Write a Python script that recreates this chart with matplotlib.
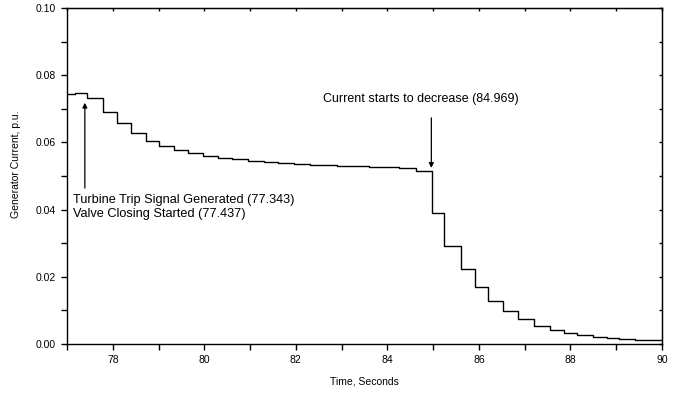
import matplotlib
matplotlib.use('Agg')
import matplotlib.pyplot as plt
from matplotlib.ticker import MultipleLocator, FormatStrFormatter

plt.rcParams['font.family'] = ['Liberation Sans', 'DejaVu Sans']

# Sampled generator current (step changes), time in seconds
t = [77.00, 77.17, 77.43, 77.78, 78.10, 78.39, 78.73, 79.02, 79.33, 79.65,
     79.97, 80.30, 80.60, 80.95, 81.30, 81.60, 81.95, 82.30, 82.60, 82.90,
     83.25, 83.60, 83.90, 84.25, 84.63, 84.97, 85.24, 85.60, 85.92, 86.20,
     86.53, 86.86, 87.20, 87.56, 87.86, 88.14, 88.49, 88.80, 89.07, 89.42,
     90.00]
current = [0.0743, 0.0746, 0.0733, 0.0690, 0.0657, 0.0628, 0.0603, 0.0589, 0.0577, 0.0567,
           0.0560, 0.0554, 0.0550, 0.0546, 0.0542, 0.0539, 0.0536, 0.0534, 0.0532, 0.0530,
           0.0529, 0.0527, 0.0526, 0.0524, 0.0515, 0.0390, 0.0292, 0.0222, 0.0170, 0.0129,
           0.0098, 0.0074, 0.0054, 0.0043, 0.0034, 0.0026, 0.0022, 0.0018, 0.0014, 0.0011,
           0.0011]

trip_t = 77.39
decrease_t = 84.96

fig = plt.figure(figsize=(6.74, 3.96), dpi=100)
ax = fig.add_axes([0.0994, 0.1313, 0.8828, 0.8485])

ax.step(t, current, where='post', color='black', linewidth=1.0)

ax.set_xlim(77, 90)
ax.set_ylim(0, 0.10)
ax.xaxis.set_major_locator(MultipleLocator(2))
ax.xaxis.set_minor_locator(MultipleLocator(1))
ax.yaxis.set_major_locator(MultipleLocator(0.02))
ax.yaxis.set_minor_locator(MultipleLocator(0.01))
ax.yaxis.set_major_formatter(FormatStrFormatter('%.2f'))

ax.tick_params(which='both', direction='out', labelsize=7.5, width=1, length=4)
ax.tick_params(which='major', pad=4)

# tiny marks along the top and right edges
top = ax.secondary_xaxis('top')
top.set_xticks(range(77, 91))
top.tick_params(length=2, direction='in', labeltop=False, width=1)
right = ax.secondary_yaxis('right')
right.set_yticks([i * 0.01 for i in range(11)])
right.tick_params(length=2, direction='in', labelright=False, width=1)

for s in ax.spines.values():
    s.set_linewidth(1.0)

ax.set_xlabel('Time, Seconds', fontsize=7.5, labelpad=8)
ax.set_ylabel('Generator Current, p.u.', fontsize=7.5)
ax.yaxis.set_label_coords(-0.077, 0.536)

ax.annotate('', xy=(trip_t, 0.0718), xytext=(trip_t, 0.0464),
            arrowprops=dict(arrowstyle='-|>', color='black', lw=0.9,
                            mutation_scale=7, shrinkA=0, shrinkB=0))
ax.text(77.13, 0.0408, 'Turbine Trip Signal Generated (77.343)\nValve Closing Started (77.437)',
        fontsize=9.2, ha='left', va='center', linespacing=1.28)

ax.annotate('', xy=(decrease_t, 0.0524), xytext=(decrease_t, 0.0673),
            arrowprops=dict(arrowstyle='-|>', color='black', lw=0.9,
                            mutation_scale=7, shrinkA=0, shrinkB=0))
ax.text(84.72, 0.0730, 'Current starts to decrease (84.969)',
        fontsize=9.0, ha='center', va='center')

fig.savefig('out.png', dpi=100)
